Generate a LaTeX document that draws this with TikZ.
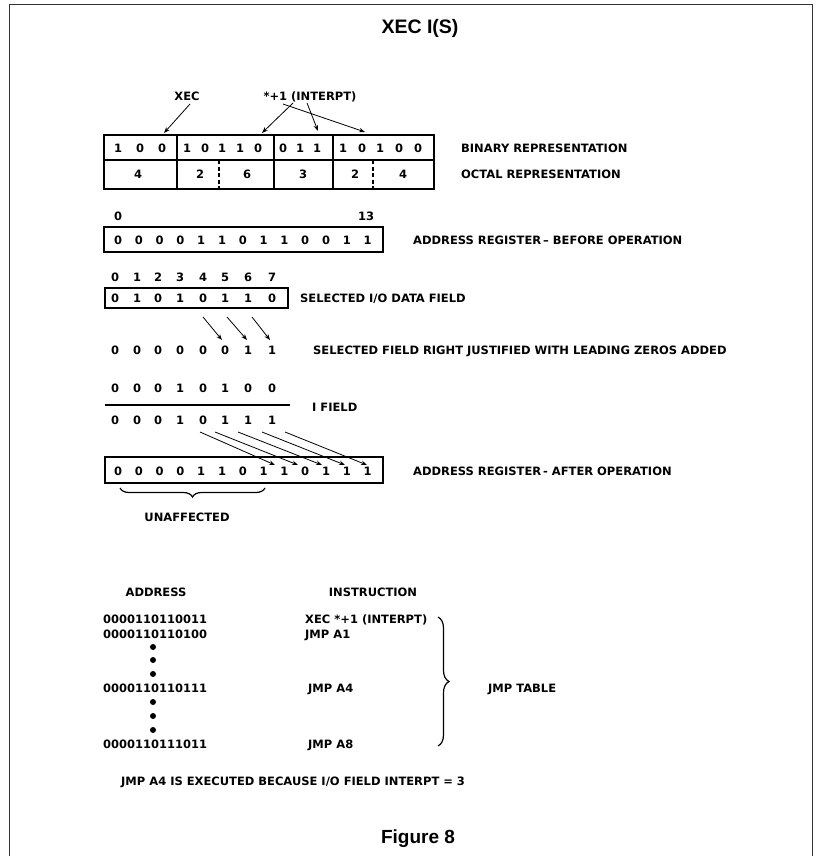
\documentclass[tikz,border=0pt]{standalone}
\usepackage{fontspec}
\setmainfont{DejaVu Sans}
\newfontfamily\helv{Liberation Sans}
\usetikzlibrary{arrows.meta,decorations.pathreplacing}
\tikzset{
  t/.style={font=\bfseries\fontsize{11.5}{12}\selectfont, inner sep=0pt, text height=8.4pt, text depth=0pt},
  lbl/.style={t, anchor=west},
  regbox/.style={draw, line width=1.8pt, inner sep=0pt},
  divider/.style={line width=1.8pt},
  dashdiv/.style={line width=1.8pt, dash pattern=on 4pt off 2.5pt},
  arr/.style={-{Stealth[length=6pt,width=4.5pt]}, line width=0.8pt},
  bigdot/.style={circle, fill, inner sep=0pt, minimum size=6pt},
  brc/.style={decorate, line width=1.2pt},
}
\begin{document}
\begin{tikzpicture}[x=1pt,y=-1pt]
\useasboundingbox (0,0) rectangle (825,856);
% frame
\draw[line width=1pt, black!80] (9,856) -- (9,5) -- (812,5) -- (812,856);
% title
\node[font=\helv\bfseries\fontsize{19.5}{22}\selectfont, inner sep=0pt] (title) at (420,28) {XEC I(S)};

% instruction word
\node[regbox, minimum width=330pt, minimum height=54pt] (binbox) at (269,162) {};
\draw[divider] (104,160) -- (434,160);
\draw[divider] (177,135) -- (177,189);
\draw[divider] (274,135) -- (274,189);
\draw[divider] (333,135) -- (333,189);
\draw[dashdiv] (219,160) -- (219,189);
\draw[dashdiv] (373,160) -- (373,189);
\foreach \x/\d [count=\i] in {118/1,140/0,162/0,187/1,205/0,222/1,240/1,258/0,283/0,300/1,317/1,343/1,362/0,380/1,399/0,418/0}
  \node[t] (bin\i) at (\x,148) {\d};
\foreach \x/\d [count=\i] in {138/4,200/2,247/6,303/3,355/2,403/4}
  \node[t] (oct\i) at (\x,174) {\d};
\node[lbl] (binlbl) at (461,148) {BINARY REPRESENTATION};
\node[lbl] (octlbl) at (461,174) {OCTAL REPRESENTATION};

\node[t] (xec) at (187,96) {XEC};
\node[t] (interpt) at (310,96) {*+1 (INTERPT)};
\coordinate (xs) at (190,104); \coordinate (xe) at (164,133);
\coordinate (as) at (293,103); \coordinate (ae) at (262,133);
\coordinate (bs) at (307,103); \coordinate (be) at (318,131);
\coordinate (cs) at (283,104); \coordinate (ce) at (365,132);
\draw[arr] (xs) -- (xe);
\draw[arr] (as) -- (ae);
\draw[arr] (bs) -- (be);
\draw[arr] (cs) -- (ce);

% address register before
\node[t] (ab0) at (118,216) {0};
\node[t] (ab13) at (366,216) {13};
\node[regbox, minimum width=279pt, minimum height=25pt] (regA) at (243.5,239.5) {};
\foreach \d [count=\i from 0] in {0,0,0,0,1,1,0,1,1,0,0,1,1}
  \node[t] (ra\i) at ({118+20.8*\i},240) {\d};
\node[lbl] (ralbl) at (413,240) {ADDRESS REGISTER\,– BEFORE OPERATION};

% selected I/O data field
\foreach \x/\d [count=\i from 0] in {115/0,137/1,158/2,180/3,203/4,225/5,248/6,272/7}
  \node[t] (dn\i) at (\x,277) {\d};
\node[regbox, minimum width=183pt, minimum height=20pt] (dbox) at (196.5,298) {};
\foreach \x/\d [count=\i from 0] in {115/0,137/1,158/0,180/1,203/0,225/1,248/1,272/0}
  \node[t] (dd\i) at (\x,298) {\d};
\node[lbl] (dlbl) at (300,298) {SELECTED I/O DATA FIELD};
\coordinate (d1s) at (203,317); \coordinate (d1e) at (222,340);
\coordinate (d2s) at (227,317); \coordinate (d2e) at (247,340);
\coordinate (d3s) at (252,317); \coordinate (d3e) at (270,340);
\draw[arr] (d1s) -- (d1e);
\draw[arr] (d2s) -- (d2e);
\draw[arr] (d3s) -- (d3e);
\foreach \x/\d [count=\i from 0] in {115/0,137/0,158/0,180/0,203/0,225/0,248/1,272/1}
  \node[t] (rj\i) at (\x,350) {\d};
\node[lbl] (rjlbl) at (313,350) {SELECTED FIELD RIGHT JUSTIFIED WITH LEADING ZEROS ADDED};

% I field
\foreach \x/\d [count=\i from 0] in {115/0,137/0,158/0,180/1,203/0,225/1,248/0,272/0}
  \node[t] (if\i) at (\x,388) {\d};
\draw[line width=1.8pt] (105,405) -- (290,405);
\node[lbl] (iflbl) at (312,407) {I FIELD};
\foreach \x/\d [count=\i from 0] in {115/0,137/0,158/0,180/1,203/0,225/1,248/1,272/1}
  \node[t] (res\i) at (\x,420) {\d};
\coordinate (r1s) at (200,432); \coordinate (r1e) at (275,465);
\coordinate (r2s) at (215,432); \coordinate (r2e) at (298,465);
\coordinate (r3s) at (238,432); \coordinate (r3e) at (322,465);
\coordinate (r4s) at (262,432); \coordinate (r4e) at (345,465);
\coordinate (r5s) at (285,432); \coordinate (r5e) at (367,465);
\foreach \k in {1,...,5} \draw[arr] (r\k s) -- (r\k e);

% address register after
\node[regbox, minimum width=278pt, minimum height=26pt] (regB) at (244,470) {};
\foreach \d [count=\i from 0] in {0,0,0,0,1,1,0,1,1,0,1,1,1}
  \node[t] (rb\i) at ({118+20.8*\i},471) {\d};
\node[lbl] (rblbl) at (413,471) {ADDRESS REGISTER\,- AFTER OPERATION};
\coordinate (brL) at (120,488); \coordinate (brR) at (265,488);
\draw[brc, decoration={brace, mirror, amplitude=9pt}] (brL) -- (brR);
\node[t] (unaff) at (187,517) {UNAFFECTED};

% jump table
\node[t] (hAddr) at (156,592) {ADDRESS};
\node[t] (hInstr) at (373,592) {INSTRUCTION};
\node[lbl] (a1) at (103,619) {0000110110011};
\node[lbl] (a2) at (103,634) {0000110110100};
\node[lbl] (a3) at (103,688) {0000110110111};
\node[lbl] (a4) at (103,744) {0000110111011};
\foreach \y [count=\i] in {647,660,674,702,716,730}
  \node[bigdot] (dot\i) at (153,\y) {};
\node[lbl] (i1) at (305,619) {XEC *+1 (INTERPT)};
\node[lbl] (i2) at (305,634) {JMP A1};
\node[lbl] (i3) at (308,688) {JMP A4};
\node[lbl] (i4) at (308,744) {JMP A8};
\coordinate (jbT) at (438,617); \coordinate (jbB) at (438,746);
\draw[brc, decoration={brace, amplitude=11pt}] (jbT) -- (jbB);
\node[lbl] (jmptab) at (488,688) {JMP TABLE};
\node[lbl] (concl) at (121,781) {JMP A4 IS EXECUTED BECAUSE I/O FIELD INTERPT = 3};

\node[font=\helv\bfseries\fontsize{19}{21}\selectfont, inner sep=0pt] (fig) at (418,839) {Figure 8};
\end{tikzpicture}
\end{document}
